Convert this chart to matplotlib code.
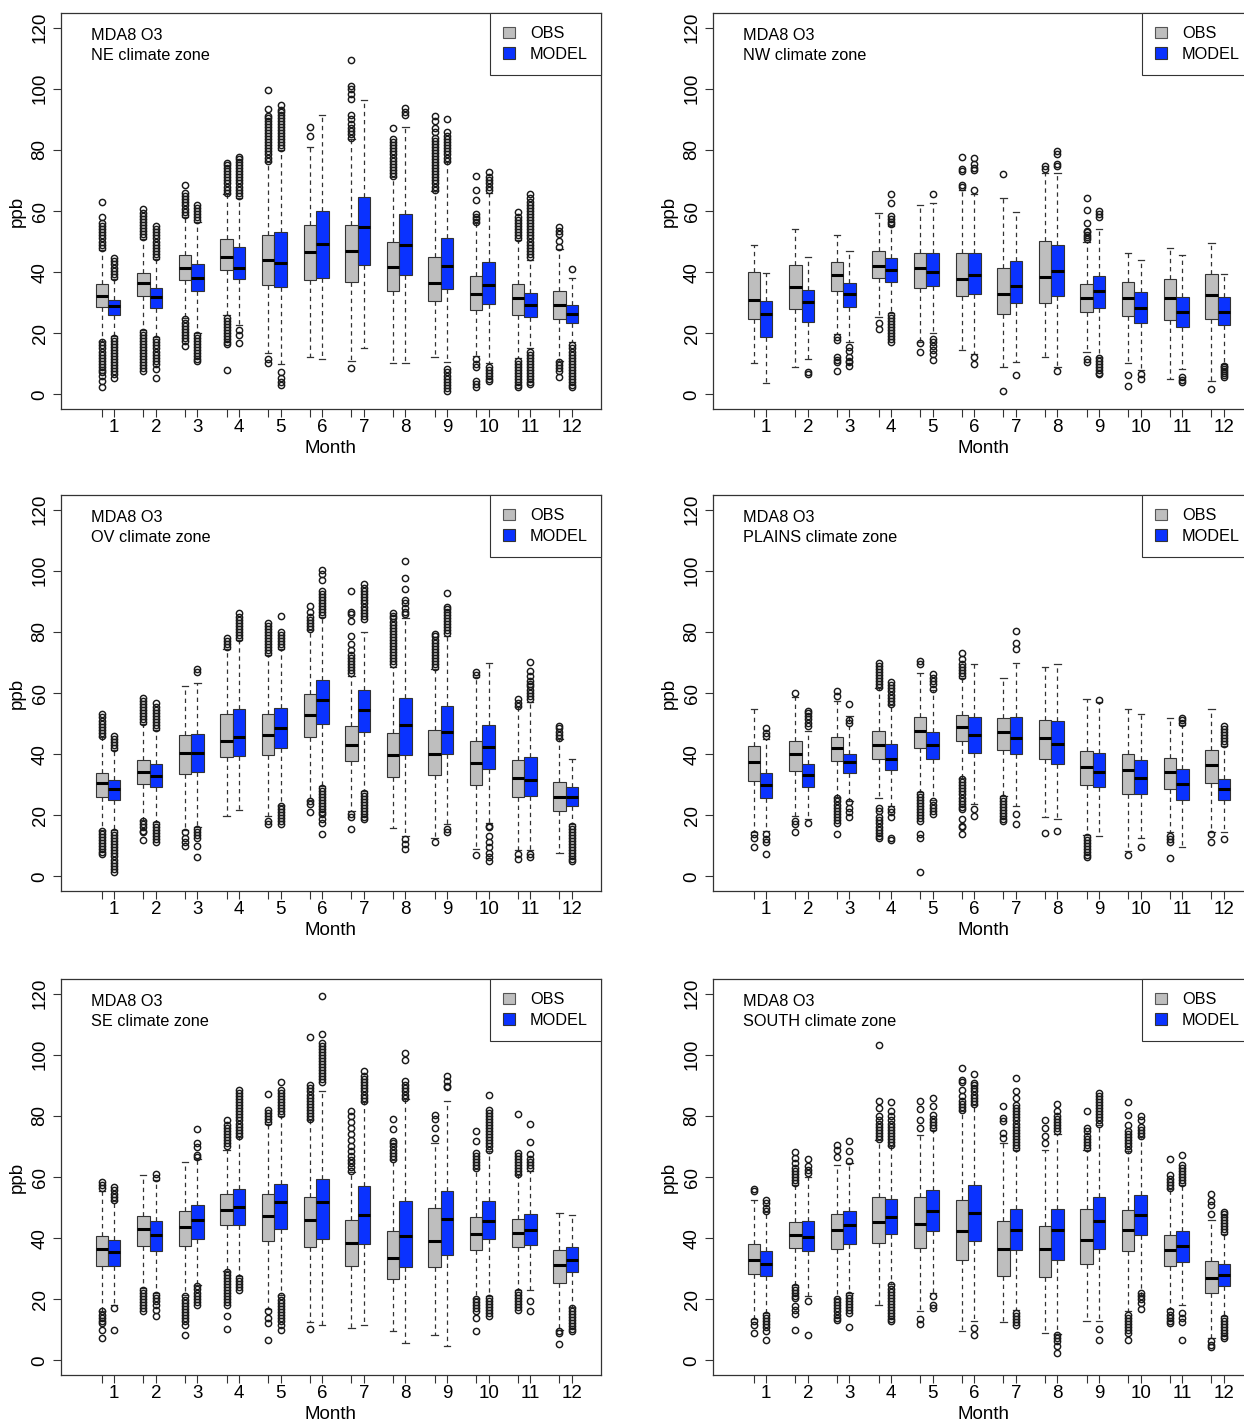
import matplotlib
matplotlib.use("Agg")
import matplotlib.pyplot as plt
from matplotlib.patches import Patch

plt.rcParams["font.family"] = ["Liberation Sans", "DejaVu Sans"]

months = list(range(1, 13))
zones = ["NE", "NW", "OV", "PLAINS", "SE", "SOUTH"]

# per month: [lower whisker, q1, median, q3, upper whisker]
NE_OBS = [
    [17.5, 28.7, 32.3, 36.1, 47.2], [21.0, 32.3, 36.3, 39.8, 50.8], [25.0, 37.4, 41.5, 45.7, 58.0],
    [25.8, 40.7, 45.0, 50.7, 65.5], [13.4, 35.7, 44.1, 52.3, 76.0], [12.3, 37.5, 46.7, 55.4, 81.0],
    [10.8, 36.8, 46.8, 55.5, 83.5], [10.1, 33.7, 41.7, 49.8, 71.0], [12.3, 30.4, 36.3, 45.0, 66.5],
    [12.5, 27.6, 32.8, 38.7, 56.0], [11.8, 26.0, 31.5, 36.1, 50.5], [11.0, 24.6, 29.3, 33.7, 47.5],
]
NE_MOD = [
    [19.0, 26.0, 29.0, 30.8, 37.8], [18.8, 28.4, 31.9, 34.8, 44.2], [20.2, 33.7, 38.0, 42.8, 56.3],
    [22.8, 37.7, 41.5, 48.3, 64.2], [9.9, 35.0, 43.1, 53.1, 80.0], [11.4, 38.0, 49.3, 60.0, 91.4],
    [15.0, 42.3, 54.6, 64.6, 96.2], [10.1, 39.1, 48.9, 59.0, 87.5], [10.5, 34.4, 42.1, 51.3, 75.9],
    [10.1, 29.5, 35.7, 43.4, 66.0], [15.0, 25.4, 29.3, 33.0, 44.0], [17.0, 23.2, 26.3, 29.3, 38.0],
]
NE_OBS_OUT = [
    [48, 49, 50, 51, 52, 53, 54, 55, 56.2, 58.1, 62.8, 17, 16, 15, 14, 13, 12, 11, 10, 9, 8, 7.2, 6, 4.5, 2.3],
    [51.5, 52.5, 53.5, 54.5, 55.5, 56.5, 57.5, 58.5, 59.5, 60.5, 20.5, 19.5, 18.5, 17.5, 16.5, 15.5, 14.5,
     13.5, 12.5, 11.5, 10.5, 9.5, 8.5, 7.7],
    [58.8, 59.8, 60.8, 61.8, 62.8, 63.8, 64.8, 65.8, 68.4, 24.5, 23.5, 22.5, 21.5, 20.5, 19.5, 18.5, 17.3, 15.7],
    [66, 67, 68, 69, 70, 71, 72, 73, 74, 75, 75.6, 25, 24, 23, 22, 21, 20, 19, 18, 17, 16.5, 8.0],
    [76.5, 77.5, 78.5, 79.5, 80.5, 81.5, 82.5, 83.5, 84.5, 85.5, 86.5, 87.5, 88.5, 89.5, 90.5, 91, 93.5, 99.7,
     11.5, 10.1],
    [84.6, 87.5],
    [84.0, 85.1, 86.2, 87.3, 88.4, 90.0, 91.3, 96.6, 98.2, 99.8, 100.9, 109.3, 8.6],
    [71.5, 72.5, 73.5, 74.5, 75.5, 76.5, 77.5, 78.5, 79.5, 80.5, 81.5, 82.5, 83.5, 87.3],
    [67, 68, 69, 70, 71, 72, 73, 74, 75, 76, 77, 78, 79, 80, 81, 82, 83, 84, 85.7, 87.3, 89.3, 91.1],
    [56.5, 57.3, 58.1, 59, 63.5, 66.8, 71.5, 11.6, 9.9, 8.8, 4.5, 3.4, 2.3],
    [51, 52, 53, 54, 55, 56, 57, 58, 59.8, 11, 10, 9, 8, 7, 6, 5, 4, 3, 2.3],
    [48.1, 50.2, 52.4, 53.5, 54.6, 10.5, 9.5, 8.5, 7.5, 5.6],
]
NE_MOD_OUT = [
    [38.5, 39.5, 40.5, 41.5, 42.5, 43.5, 44.5, 18.5, 17.5, 16.5, 15.5, 14.5, 13.5, 12.5, 11.5, 10.5, 9.5, 8.5,
     7.5, 6.5, 5.5],
    [45, 46, 47, 48, 49, 50, 51, 52, 53, 54, 55.2, 18, 17, 16, 15, 14, 13, 12, 11, 10, 8.3, 5.3],
    [57, 58, 59, 60, 61, 62, 19.5, 18.5, 17.5, 16.5, 15.5, 14.5, 13.5, 12.5, 11.5, 11],
    [65, 66, 67, 68, 69, 70, 71, 72, 73, 74, 75, 76, 77, 77.7, 21, 19.5, 16.7],
    [80.5, 81.5, 82.5, 83.5, 84.5, 85.5, 86.5, 87.5, 88.5, 89.5, 90.5, 91.5, 92.5, 93, 94.7, 7.2, 5.5, 4, 3],
    [],
    [],
    [91.3, 92.4, 93.8],
    [76.5, 77.5, 78.5, 79.5, 80.5, 81.5, 82.5, 83.5, 84.5, 85.7, 90.0, 8.3, 7.2, 6, 5, 4, 3, 2, 1],
    [67, 68, 69, 70, 71, 72.6, 9, 8, 7, 6, 5, 4.5],
    [45, 46, 47, 48, 49, 50, 51, 52, 53, 54, 55, 56, 57, 58, 59, 60, 61, 62, 63, 64.4, 65.7,
     14, 13, 12, 11, 10, 9, 8, 7, 6, 5, 4, 3.4],
    [41.0, 16, 15, 14, 13, 12, 11, 10, 9, 8, 7, 6, 5, 4, 3, 2.3],
]

NW_OBS = [
    [10.2, 24.6, 30.8, 39.9, 48.8], [9.0, 27.9, 35.0, 42.3, 54.1], [19.9, 33.7, 39.0, 43.4, 52.2],
    [25.4, 38.0, 42.1, 46.8, 59.4], [17.2, 34.8, 41.5, 46.4, 62.0], [14.5, 32.2, 37.9, 46.1, 66.8],
    [9.0, 26.3, 32.8, 41.5, 64.4], [12.1, 29.8, 38.5, 50.2, 72.5], [13.7, 26.8, 31.5, 36.1, 50.0],
    [10.1, 25.7, 31.4, 36.6, 46.4], [5.0, 24.3, 31.5, 37.7, 47.8], [4.5, 24.6, 32.6, 39.3, 49.4],
]
NW_MOD = [
    [3.6, 18.6, 26.3, 30.6, 39.7], [11.6, 23.8, 30.3, 34.1, 45.0], [17.0, 28.7, 32.8, 36.3, 47.0],
    [26.5, 36.9, 40.7, 44.5, 55.0], [20.1, 35.3, 39.9, 46.1, 62.6], [13.2, 32.8, 39.1, 46.1, 65.7],
    [10.7, 29.9, 35.5, 43.5, 59.8], [9.0, 32.3, 40.4, 48.8, 72.3], [12.3, 28.4, 33.9, 38.8, 54.1],
    [8.0, 23.2, 28.2, 33.4, 44.0], [8.3, 22.1, 26.8, 31.7, 45.7], [10.0, 22.8, 27.1, 31.7, 39.3],
]
NW_OBS_OUT = [
    [], [], [18.8, 17.8, 12.1, 11.3, 10.5, 7.7], [23.2, 21.4], [16.7, 14.0],
    [68.0, 68.6, 73.1, 73.7, 77.7], [72.0, 1.2], [73.7, 74.8],
    [50.8, 51.5, 52.2, 53.0, 53.5, 56.2, 60.3, 64.4, 11.6, 10.5],
    [6.4, 2.8], [], [1.7],
]
NW_MOD_OUT = [
    [], [7.2, 6.8], [15.4, 14.3, 12.1, 11.0, 10.5, 9.2],
    [55.8, 56.5, 57.5, 58.5, 62.6, 65.7, 26, 25, 24, 23, 22, 21, 20, 19, 18, 17],
    [65.5, 18.1, 17.0, 15.9, 14.5, 13.2, 11.2], [66.8, 73.5, 74.0, 75.5, 77.3, 12.3, 9.9], [6.4],
    [74.8, 75.3, 78.6, 79.7, 7.7], [58.1, 59.0, 60.1, 12, 11, 10, 9, 8, 7, 6.6], [6.6, 5.0],
    [5.6, 4.7, 3.9], [9.4, 8.8, 8.2, 7.6, 7.0, 6.3, 5.6],
]

OV_OBS = [
    [15.3, 26.1, 30.5, 33.8, 45.5], [18.4, 30.2, 34.0, 38.1, 50.0], [15.1, 33.4, 40.3, 46.2, 62.3],
    [19.6, 38.9, 44.3, 53.0, 74.3], [19.8, 39.7, 46.3, 53.0, 72.5], [25.0, 45.7, 52.8, 59.8, 80.5],
    [21.5, 37.6, 43.0, 49.2, 65.5], [15.7, 32.6, 39.6, 47.0, 68.5], [12.5, 33.2, 40.0, 48.0, 68.0],
    [8.9, 29.9, 37.2, 44.3, 65.3], [8.7, 26.0, 32.1, 38.0, 55.5], [7.6, 21.5, 26.1, 31.0, 45.0],
]
OV_MOD = [
    [15.2, 25.0, 28.5, 31.6, 41.5], [17.9, 29.1, 32.7, 36.7, 48.0], [16.2, 34.2, 40.5, 46.5, 63.4],
    [21.8, 39.4, 45.6, 54.9, 77.5], [23.5, 42.1, 48.7, 55.2, 74.5], [29.5, 49.8, 57.6, 64.1, 85.0],
    [28.0, 47.3, 54.4, 61.0, 80.0], [13.3, 39.7, 49.4, 58.3, 84.5], [17.1, 40.0, 47.4, 55.8, 78.8],
    [17.6, 35.1, 42.4, 49.4, 69.7], [8.7, 26.4, 31.6, 38.9, 57.0], [17.0, 22.9, 26.1, 29.1, 38.3],
]
OV_OBS_OUT = [
    [46, 47, 48, 49, 50, 51, 52, 53, 15, 14, 13, 12, 11, 10, 9, 8, 7.3],
    [50.5, 51.5, 52.5, 53.5, 54.5, 55.5, 56.5, 57.5, 58.5, 18, 17, 16, 15, 14.4, 12.0],
    [14.4, 12.7, 11.1, 10.0],
    [75, 76, 77, 78],
    [73, 74, 75, 76, 77, 78, 79, 80, 81, 82, 83, 18.2, 17.1],
    [81, 82, 83, 84, 85, 86.5, 88.4, 24.5, 23.6, 20.9],
    [66.4, 67.4, 68.4, 69.4, 70.4, 71.4, 72.4, 74, 76, 78.6, 83.5, 85.7, 86.6, 93.3, 20.4, 19.3, 15.5],
    [69.4, 70.4, 71.4, 72.4, 73.4, 74.4, 75.4, 76.4, 77.4, 78.4, 79.4, 80.4, 81.4, 82.4, 83.4, 84.4, 85.2, 86.2],
    [68.5, 69.5, 70.5, 71.5, 72.5, 73.5, 74.5, 75.5, 76.5, 77.5, 78.5, 79.2, 11.3],
    [65.8, 66.9, 7.0],
    [55.8, 56.8, 57.9, 7.3, 5.7],
    [45.4, 46.4, 47.4, 48.4, 49.2],
]
OV_MOD_OUT = [
    [42, 43, 44, 45, 46, 14.5, 13.5, 12.5, 11.5, 10.5, 9.5, 8.5, 7.5, 6.5, 5.5, 4.5, 3.5, 2.5, 1.5],
    [48.5, 49.5, 50.5, 51.5, 52.5, 53.5, 54.5, 55.5, 56.8, 17.1, 16.1, 15.1, 14.1, 13.1, 12.1, 11.1],
    [66.9, 68.0, 15.5, 14.5, 13.5, 12.7, 10.0, 6.4],
    [78, 79, 80, 81, 82, 83, 84, 85, 86.2],
    [75, 76, 77, 78, 79, 79.9, 85.2, 23, 22, 21, 20, 19, 18, 17.1],
    [85.5, 86.5, 87.5, 88.5, 89.5, 90.5, 91.5, 92.5, 93.5, 97, 99, 100.4,
     29, 28, 27, 26, 25, 24, 23, 22, 21, 20.4, 18.7, 17.6, 14.0],
    [84.3, 85.3, 86.3, 87.3, 88.3, 89.3, 90.3, 91.3, 92.3, 93.3, 94.3, 95.7,
     27.4, 26.4, 25.4, 24.4, 23.4, 22.4, 21.4, 20.4, 19.4, 18.9],
    [85.7, 86.5, 87.9, 89.3, 90.6, 93.9, 97.7, 103.1, 12.2, 10.6, 9.1],
    [79.5, 80.5, 81.5, 82.5, 83.5, 84.5, 85.5, 86.5, 87.5, 88.0, 92.8, 15.5, 14.6],
    [16.6, 16.0, 13.3, 11.1, 9.5, 7.8, 6.2, 5.1],
    [58, 59, 60, 61, 62.3, 63, 64, 65.6, 67.2, 70.1, 7.3, 6.2],
    [16.6, 15.6, 14.6, 13.6, 12.6, 11.6, 10.6, 9.6, 8.6, 7.6, 6.6, 5.6, 5.1],
]

PL_OBS = [
    [14.6, 31.3, 37.5, 42.7, 54.7], [19.6, 34.5, 40.0, 44.3, 58.8], [26.0, 37.6, 42.1, 45.7, 57.4],
    [25.8, 38.3, 43.0, 47.6, 61.5], [27.5, 42.1, 47.6, 52.3, 66.6], [32.3, 44.3, 48.9, 52.7, 65.0],
    [26.3, 41.4, 47.3, 51.7, 64.9], [19.3, 38.3, 45.4, 51.2, 68.6], [13.5, 29.9, 35.9, 41.1, 57.9],
    [8.4, 26.9, 34.8, 40.0, 54.7], [14.6, 28.5, 34.0, 38.7, 51.9], [14.6, 30.4, 36.4, 41.4, 54.7],
]
PL_MOD = [
    [14.9, 25.8, 29.9, 33.8, 45.1], [18.7, 29.4, 33.2, 36.9, 47.5], [24.7, 33.8, 37.5, 40.0, 52.5],
    [23.0, 34.8, 38.5, 43.2, 56.0], [25.0, 38.3, 42.9, 47.4, 61.0], [23.6, 40.3, 46.4, 52.3, 69.6],
    [22.9, 40.0, 45.4, 52.3, 69.9], [18.7, 36.7, 43.2, 50.9, 69.4], [13.1, 29.1, 34.0, 40.3, 57.0],
    [12.4, 26.9, 32.1, 38.0, 53.0], [9.7, 25.0, 30.1, 35.1, 49.5], [14.6, 25.0, 28.5, 32.0, 42.5],
]
PL_OBS_OUT = [
    [13.8, 12.7, 9.5],
    [59.9, 18.2, 17.1, 14.6],
    [59.0, 60.7, 25.5, 24.5, 23.5, 22.5, 21.5, 20.5, 19.5, 18.5, 17.6, 14.0],
    [62, 63, 64, 65, 66, 67, 68, 69, 69.9, 22.5, 21.5, 19.3, 18.3, 17.3, 16.3, 15.3, 14.3, 13.3, 12.7],
    [69.4, 70.5, 27, 26, 25, 24, 23, 22, 21, 20, 19, 18.2, 13.8, 12.7, 1.3],
    [65.6, 66.6, 67.6, 68.6, 69.6, 71.0, 73.2, 31.8, 30.8, 29.8, 28.8, 27.8, 26.8, 25.8, 24.8, 23.8, 22.8,
     22.0, 18.7, 16.6, 16.0, 13.8],
    [25.8, 24.8, 23.8, 22.8, 21.8, 20.8, 19.8, 18.8, 18.2],
    [14.2],
    [13.0, 12.0, 11.0, 10.0, 9.0, 8.0, 7.0, 6.2],
    [7.0],
    [13.3, 12.2, 11.1, 6.0],
    [13.8, 11.3],
]
PL_MOD_OUT = [
    [46.0, 47.0, 48.5, 13.8, 12.2, 11.1, 7.3],
    [49.2, 50.3, 51.4, 52.4, 53.3, 54.1, 17.3],
    [50.3, 51.3, 56.5, 24.2, 22.5, 20.9, 19.3],
    [56.5, 57.5, 58.5, 59.5, 60.5, 61.5, 62.5, 63.6, 22.0, 20.9, 19.3, 12.7, 12.0],
    [61.4, 62.8, 63.9, 65.0, 66.1, 24.5, 23.5, 22.5, 21.5, 20.4],
    [22.0, 19.8],
    [74.3, 76.4, 80.3, 20.4, 17.1],
    [14.9],
    [57.7],
    [9.7],
    [50.3, 51.2, 51.9],
    [43.2, 44.2, 45.2, 46.2, 47.2, 48.2, 49.2, 12.2],
]

SE_OBS = [
    [16.3, 30.8, 36.5, 40.6, 55.5], [23.6, 37.5, 43.0, 47.1, 60.5], [21.5, 37.5, 43.6, 48.8, 64.9],
    [29.4, 44.4, 49.3, 54.4, 69.0], [16.8, 39.2, 47.3, 54.4, 77.5], [12.5, 37.0, 46.0, 53.5, 78.5],
    [10.6, 30.8, 38.4, 45.8, 61.5], [9.5, 26.7, 33.5, 42.2, 65.5], [8.2, 30.4, 38.9, 49.9, 71.1],
    [20.5, 36.2, 41.5, 46.8, 62.5], [23.0, 37.1, 41.7, 46.4, 60.5], [10.0, 25.3, 31.1, 36.2, 48.2],
]
SE_MOD = [
    [18.0, 30.8, 35.5, 39.4, 52.0], [22.0, 35.9, 41.1, 45.5, 59.0], [24.5, 39.8, 46.0, 50.7, 66.0],
    [27.5, 44.4, 50.1, 56.1, 73.0], [21.5, 43.0, 51.7, 57.7, 80.0], [11.7, 39.8, 51.8, 59.3, 88.3],
    [11.7, 38.1, 47.7, 56.9, 84.5], [5.7, 30.4, 40.6, 52.3, 85.5], [4.6, 34.4, 46.4, 55.3, 85.0],
    [21.0, 39.7, 45.7, 52.3, 68.5], [23.1, 37.9, 42.5, 47.9, 62.0], [17.5, 28.9, 32.7, 37.0, 47.5],
]
SE_OBS_OUT = [
    [56.4, 57.5, 58.4, 16.0, 15.0, 14.0, 13.0, 12.2, 10.0, 7.3],
    [23.1, 22.1, 21.1, 20.1, 19.1, 18.1, 17.1, 16.0],
    [20.9, 19.9, 18.9, 17.9, 16.9, 15.9, 14.9, 13.9, 12.9, 11.7, 8.4],
    [70, 71, 72, 73, 74, 75, 76, 77, 78.8, 29, 28, 27, 26, 25, 24, 23, 22, 21, 20, 19, 18.2, 14.4, 10.4],
    [78, 79, 80, 81, 81.8, 87.3, 16.0, 13.9, 12.2, 6.8],
    [79, 80, 81, 82, 83, 84, 85, 86, 87, 88, 89, 90, 105.7, 10.3],
    [62.1, 63.3, 64.5, 65.7, 67, 68.4, 70, 72, 74, 76, 78, 80, 81.5],
    [66, 67, 68, 69, 70, 71, 71.7, 75.8, 79.1],
    [72.8, 76.0, 79.1, 80.2],
    [63, 64, 65, 66, 67, 68, 71.9, 75.2, 20.0, 19.0, 18.0, 17.0, 16.0, 13.9, 9.7],
    [61, 62, 63, 64, 65, 66, 67, 68, 80.6, 22.5, 21.5, 20.5, 19.5, 18.5, 17.5, 16.6],
    [9.5, 8.9, 5.3],
]
SE_MOD_OUT = [
    [52.6, 53.6, 54.6, 55.6, 56.6, 17.1, 10.0],
    [59.7, 61.0, 21.5, 20.5, 19.5, 18.2, 16.6, 14.4],
    [66.4, 67.3, 69.7, 71.1, 75.8, 24.2, 23.2, 22.2, 21.2, 20.2, 19.2, 18.2],
    [73.5, 74.5, 75.5, 76.5, 77.5, 78.5, 79.5, 80.5, 81.5, 82.5, 83.5, 84.5, 85.5, 86.5, 87.5, 88.6,
     26.9, 25.9, 24.9, 23.9, 23.1],
    [80.5, 81.5, 82.5, 83.5, 84.5, 85.5, 86.5, 87.5, 88.6, 91.1,
     20.9, 19.9, 18.9, 17.9, 16.9, 15.9, 14.9, 13.9, 12.8, 11.7, 10.0],
    [91, 92, 93, 94, 95, 96, 97, 98, 99, 100, 101, 102, 103, 104, 106.8, 119.3],
    [85, 86, 87, 88, 89, 90, 91, 92, 93, 94.6],
    [86, 87, 88, 89, 90, 91.3, 98.4, 100.6],
    [89.3, 89.7, 91.3, 92.9],
    [69, 70, 71, 72, 73, 74, 75, 76, 77, 78, 79, 80, 81, 82, 86.9, 20.4, 19.4, 18.4, 17.4, 16.4, 15.4, 14.4],
    [63, 64, 65, 66, 67.5, 71.5, 77.5, 19.3, 16.0],
    [17.1, 16.1, 15.1, 14.1, 13.1, 12.1, 11.1, 10.1, 9.5],
]

SO_OBS = [
    [13.5, 28.3, 32.9, 38.1, 52.6], [24.5, 36.8, 40.9, 45.3, 57.5], [20.5, 36.5, 42.5, 47.9, 64.0],
    [18.2, 38.4, 45.2, 53.5, 72.0], [16.0, 36.8, 44.7, 53.5, 73.9], [9.5, 32.9, 42.4, 52.4, 81.5],
    [12.5, 27.5, 36.4, 45.7, 71.0], [8.9, 27.2, 36.4, 44.1, 68.7], [12.8, 31.5, 39.5, 49.5, 69.0],
    [16.0, 35.9, 42.8, 49.1, 68.5], [16.8, 30.8, 36.0, 41.1, 56.0], [7.3, 22.0, 26.9, 32.4, 46.0],
]
SO_MOD = [
    [15.5, 27.5, 31.6, 35.9, 48.5], [20.9, 35.7, 40.3, 45.5, 60.0], [22.0, 38.2, 44.2, 48.8, 64.5],
    [25.0, 41.5, 46.9, 52.8, 70.0], [22.0, 42.2, 49.0, 55.6, 75.5], [12.8, 38.9, 48.2, 57.3, 83.5],
    [16.5, 36.2, 42.8, 49.5, 69.0], [8.7, 32.9, 42.5, 49.5, 74.0], [13.0, 36.4, 45.5, 53.3, 77.0],
    [21.5, 41.1, 47.5, 54.0, 73.0], [18.2, 32.1, 37.3, 42.2, 57.5], [14.5, 24.4, 28.0, 31.5, 41.5],
]
SO_OBS_OUT = [
    [55.5, 56.2, 12.8, 11.7, 8.9],
    [58, 59, 60, 61, 62, 63, 64.6, 66.2, 68.2, 24.0, 23.0, 22.0, 21.0, 20.4, 17.7, 16.5, 15.2, 9.8],
    [66.4, 68.9, 70.6, 20.0, 19.0, 18.0, 17.0, 16.0, 15.0, 14.0, 13.3],
    [72.5, 73.5, 74.5, 75.5, 76.5, 77.5, 78.5, 79.9, 82.5, 84.8, 103.3],
    [76.0, 78.8, 82.4, 84.8, 13.5, 11.9],
    [82, 83, 84, 85, 86.4, 88.5, 91.1, 91.9, 95.7],
    [72.8, 74.4, 78.2, 79.3, 83.1],
    [71.1, 73.3, 76.0, 78.8],
    [69.5, 70.5, 71.5, 72.5, 73.5, 75.0, 76.0, 81.5],
    [69, 70, 71, 72, 73, 74, 75, 77.1, 80.4, 84.5, 15.0, 14.0, 13.0, 12.0, 11.0, 10.0, 8.9, 6.8],
    [56.5, 57.5, 58.5, 59.5, 60.5, 65.9, 16.0, 15.0, 14.0, 13.0, 12.2],
    [47.9, 50.7, 52.0, 54.4, 6.2, 5.0, 4.3],
]
SO_MOD_OUT = [
    [48.8, 49.9, 51.5, 52.6, 14.9, 13.9, 12.9, 11.9, 10.9, 9.5, 6.5],
    [61.3, 62.4, 63.5, 66.0, 19.3, 8.2],
    [65.1, 68.4, 71.9, 21.5, 20.5, 19.5, 18.5, 17.5, 16.5, 15.5, 10.9],
    [70.5, 71.5, 72.5, 73.5, 74.5, 75.5, 76.5, 77.5, 78.5, 80, 81.5, 84.5,
     24.5, 23.5, 22.5, 21.5, 20.5, 19.5, 18.5, 17.5, 16.5, 15.5, 14.5, 13.5, 12.8],
    [76, 77, 78, 79, 80.4, 83.1, 85.9, 20.9, 18.2, 17.1],
    [84, 85, 86, 87, 88, 89, 90, 90.8, 93.7, 10.6, 8.4],
    [69.5, 70.5, 71.5, 72.5, 73.5, 74.5, 75.5, 76.5, 77.5, 78.5, 79.5, 80.5, 81.5, 82.5, 83.5, 85.9, 88.3,
     92.4, 15.5, 14.5, 13.5, 12.5, 11.7],
    [75, 76, 77, 78, 79, 80, 81.5, 83.9, 8.4, 7.3, 6.2, 4.6, 2.4],
    [77.5, 78.5, 79.5, 80.5, 81.5, 82.5, 83.5, 84.5, 85.5, 86.5, 87.5, 10.3, 6.8],
    [73.5, 74.5, 75.5, 76.3, 78.8, 80.1, 22.0, 21.0, 20.0, 18.8, 16.9],
    [58, 59, 60, 61, 62, 63, 64, 67.3, 15.5, 13.9, 12.5, 6.8],
    [42, 43, 44, 45, 46, 47, 48, 48.5, 13.9, 12.9, 11.9, 10.9, 9.9, 8.9, 7.9, 7.3],
]

panels = [
    (NE_OBS, NE_OBS_OUT, NE_MOD, NE_MOD_OUT),
    (NW_OBS, NW_OBS_OUT, NW_MOD, NW_MOD_OUT),
    (OV_OBS, OV_OBS_OUT, OV_MOD, OV_MOD_OUT),
    (PL_OBS, PL_OBS_OUT, PL_MOD, PL_MOD_OUT),
    (SE_OBS, SE_OBS_OUT, SE_MOD, SE_MOD_OUT),
    (SO_OBS, SO_OBS_OUT, SO_MOD, SO_MOD_OUT),
]

OBS_COLOR = "#bebebe"
MODEL_COLOR = "#0a32ff"
LINE = "#333333"


def box_stats(rows, outs):
    return [dict(whislo=r[0], q1=r[1], med=r[2], q3=r[3], whishi=r[4], fliers=o)
            for r, o in zip(rows, outs)]


def draw_panel(ax, zone, obs, obs_out, mod, mod_out):
    pos_obs = [m - 0.15 for m in months]
    pos_mod = [m + 0.15 for m in months]
    for stats, pos, color in ((box_stats(obs, obs_out), pos_obs, OBS_COLOR),
                              (box_stats(mod, mod_out), pos_mod, MODEL_COLOR)):
        ax.bxp(stats, positions=pos, widths=0.3, capwidths=0.15, patch_artist=True,
               manage_ticks=False,
               boxprops=dict(facecolor=color, edgecolor=LINE, linewidth=0.8),
               medianprops=dict(color="black", linewidth=2.2, solid_capstyle="butt"),
               whiskerprops=dict(color=LINE, linewidth=0.9, linestyle=(0, (3.5, 3))),
               capprops=dict(color=LINE, linewidth=0.9),
               flierprops=dict(marker="o", markersize=4.5, markerfacecolor="none",
                               markeredgecolor="#1a1a1a", markeredgewidth=1.05))
    ax.set_xlim(-0.13, 12.85)
    ax.set_ylim(-4.8, 124.8)
    ax.set_yticks(range(0, 121, 20))
    ax.set_xticks(pos_obs + pos_mod)
    ax.set_xticklabels([""] * 12 + [str(m) for m in months])
    ax.tick_params(axis="both", direction="out", length=6, width=0.8, color=LINE,
                   labelsize=13.5, pad=1)
    ax.tick_params(axis="y", labelrotation=90, pad=3)
    for lab in ax.get_yticklabels():
        lab.set_va("center")
    for sp in ax.spines.values():
        sp.set_color(LINE)
        sp.set_linewidth(0.9)
    ax.set_xlabel("Month", fontsize=13.5, labelpad=3)
    ax.set_ylabel("ppb", fontsize=13.5, labelpad=4)
    ax.text(0.055, 0.944, "MDA8 O3", transform=ax.transAxes, fontsize=11.7,
            ha="left", va="center")
    ax.text(0.055, 0.893, f"{zone} climate zone", transform=ax.transAxes, fontsize=11.7,
            ha="left", va="center")
    handles = [Patch(facecolor=OBS_COLOR, edgecolor="#555555", linewidth=0.8, label="OBS"),
               Patch(facecolor=MODEL_COLOR, edgecolor="#333333", linewidth=0.8, label="MODEL")]
    leg = ax.legend(handles=handles, loc="upper right", bbox_to_anchor=(1, 1),
                    borderaxespad=0, fancybox=False, framealpha=1, edgecolor=LINE,
                    fontsize=11.7, handlelength=0.7, handleheight=0.7,
                    handletextpad=0.95, borderpad=0.8, labelspacing=0.35)
    leg.get_frame().set_linewidth(0.8)


fig = plt.figure(figsize=(12.44, 14.21), dpi=100)
col_x = [61 / 1244, 713 / 1244]
row_top = [13, 495, 979]
w = 540 / 1244
h = 396 / 1421

for i, (zone, data) in enumerate(zip(zones, panels)):
    r, c = divmod(i, 2)
    bottom = 1 - (row_top[r] + 396) / 1421
    ax = fig.add_axes([col_x[c], bottom, w, h])
    draw_panel(ax, zone, *data)

fig.savefig("out.png", dpi=100)
